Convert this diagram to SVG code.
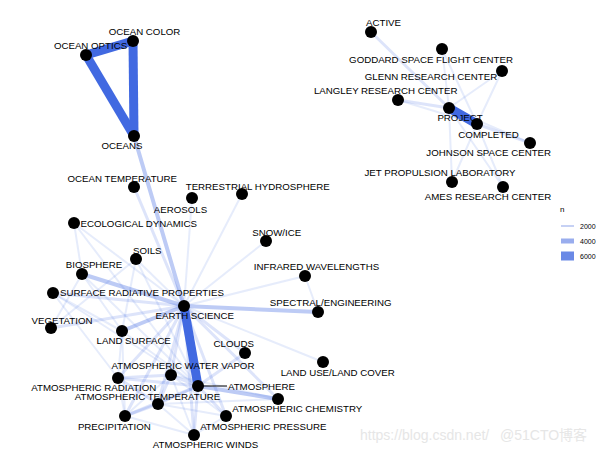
<svg xmlns="http://www.w3.org/2000/svg" width="613" height="452" viewBox="0 0 613 452">
<style>
text{font-family:"Liberation Sans",Arial,sans-serif;font-size:9.7px;fill:#000;text-anchor:middle}
.e1{stroke:#4169E1;stroke-opacity:.13;stroke-width:2;stroke-linecap:round}
.e2{stroke:#4169E1;stroke-opacity:.18;stroke-width:3;stroke-linecap:round}
.e3{stroke:#4169E1;stroke-opacity:.35;stroke-width:4;stroke-linecap:round}
.e4{stroke:#4169E1;stroke-width:9;stroke-linecap:butt}
.n circle{fill:#000}
.wm{fill:#e6e6e6;font-size:14px;text-anchor:start}
.lg{font-size:7px;text-anchor:start}
</style>
<rect width="613" height="452" fill="#fff"/>
<g id="connectors">
<line class="e2" x1="371" y1="32" x2="449" y2="108"/>
<line class="e1" x1="442" y1="49" x2="449" y2="108"/>
<line class="e1" x1="442" y1="49" x2="477" y2="124"/>
<line class="e1" x1="502" y1="71" x2="449" y2="108"/>
<line class="e1" x1="502" y1="71" x2="477" y2="124"/>
<line class="e2" x1="398" y1="100" x2="449" y2="108"/>
<line class="e1" x1="398" y1="100" x2="477" y2="124"/>
<line class="e2" x1="530" y1="143" x2="477" y2="124"/>
<line class="e1" x1="530" y1="143" x2="449" y2="108"/>
<line class="e1" x1="452" y1="182" x2="449" y2="108"/>
<line class="e1" x1="452" y1="182" x2="477" y2="124"/>
<line class="e1" x1="503" y1="187" x2="449" y2="108"/>
<line class="e1" x1="503" y1="187" x2="477" y2="124"/>
<line class="e4" x1="449" y1="108" x2="477" y2="124" stroke-width="7"/>
<line class="e3" x1="134" y1="136" x2="184" y2="306"/>
<line class="e2" x1="134" y1="187" x2="184" y2="306"/>
<line class="e1" x1="192" y1="198" x2="184" y2="306"/>
<line class="e1" x1="242" y1="194" x2="184" y2="306"/>
<line class="e1" x1="266" y1="241" x2="184" y2="306"/>
<line class="e1" x1="305" y1="276" x2="184" y2="306"/>
<line class="e1" x1="305" y1="276" x2="318" y2="312"/>
<line class="e3" x1="318" y1="312" x2="184" y2="306"/>
<line class="e1" x1="323" y1="362" x2="184" y2="306"/>
<line class="e2" x1="245" y1="353" x2="184" y2="306"/>
<line class="e2" x1="278" y1="399" x2="184" y2="306"/>
<line class="e2" x1="171" y1="375" x2="184" y2="306"/>
<line class="e2" x1="118" y1="378" x2="184" y2="306"/>
<line class="e2" x1="158" y1="404" x2="184" y2="306"/>
<line class="e2" x1="125" y1="416" x2="184" y2="306"/>
<line class="e2" x1="226" y1="416" x2="184" y2="306"/>
<line class="e2" x1="194" y1="435" x2="184" y2="306"/>
<line class="e3" x1="122" y1="331" x2="184" y2="306"/>
<line class="e2" x1="51" y1="328" x2="184" y2="306"/>
<line class="e2" x1="53" y1="293" x2="184" y2="306"/>
<line class="e3" x1="82" y1="274" x2="184" y2="306"/>
<line class="e1" x1="136" y1="259" x2="184" y2="306"/>
<line class="e1" x1="74" y1="223" x2="184" y2="306"/>
<line class="e3" x1="198" y1="386" x2="278" y2="399"/>
<line class="e2" x1="198" y1="386" x2="226" y2="416"/>
<line class="e2" x1="198" y1="386" x2="194" y2="435"/>
<line class="e2" x1="198" y1="386" x2="158" y2="404"/>
<line class="e2" x1="198" y1="386" x2="125" y2="416"/>
<line class="e2" x1="198" y1="386" x2="118" y2="378"/>
<line class="e2" x1="198" y1="386" x2="171" y2="375"/>
<line class="e2" x1="198" y1="386" x2="245" y2="353"/>
<line class="e1" x1="198" y1="386" x2="122" y2="331"/>
<line class="e1" x1="198" y1="386" x2="53" y2="293"/>
<line class="e1" x1="198" y1="386" x2="82" y2="274"/>
<line class="e1" x1="198" y1="386" x2="74" y2="223"/>
<line class="e1" x1="198" y1="386" x2="136" y2="259"/>
<line class="e2" x1="171" y1="375" x2="158" y2="404"/>
<line class="e2" x1="171" y1="375" x2="118" y2="378"/>
<line class="e1" x1="171" y1="375" x2="125" y2="416"/>
<line class="e1" x1="171" y1="375" x2="278" y2="399"/>
<line class="e1" x1="171" y1="375" x2="194" y2="435"/>
<line class="e1" x1="171" y1="375" x2="226" y2="416"/>
<line class="e2" x1="118" y1="378" x2="158" y2="404"/>
<line class="e1" x1="118" y1="378" x2="125" y2="416"/>
<line class="e1" x1="118" y1="378" x2="53" y2="293"/>
<line class="e2" x1="158" y1="404" x2="125" y2="416"/>
<line class="e1" x1="158" y1="404" x2="194" y2="435"/>
<line class="e1" x1="158" y1="404" x2="226" y2="416"/>
<line class="e1" x1="158" y1="404" x2="278" y2="399"/>
<line class="e1" x1="125" y1="416" x2="194" y2="435"/>
<line class="e1" x1="226" y1="416" x2="194" y2="435"/>
<line class="e1" x1="125" y1="416" x2="122" y2="331"/>
<line class="e1" x1="118" y1="378" x2="122" y2="331"/>
<line class="e1" x1="74" y1="223" x2="82" y2="274"/>
<line class="e1" x1="82" y1="274" x2="51" y2="328"/>
<line class="e1" x1="82" y1="274" x2="122" y2="331"/>
<line class="e1" x1="53" y1="293" x2="122" y2="331"/>
<line class="e1" x1="51" y1="328" x2="136" y2="259"/>
<line class="e1" x1="136" y1="259" x2="122" y2="331"/>
<line class="e4" x1="86" y1="55" x2="133" y2="41" stroke-width="7"/>
<line class="e4" x1="86" y1="55" x2="134" y2="136"/>
<line class="e4" x1="133" y1="41" x2="134" y2="136"/>
<line class="e4" x1="184" y1="306" x2="198" y2="386"/>
<line x1="198" y1="386" x2="227" y2="386" stroke="#000" stroke-width="1"/>
</g>
<g id="nodes" class="n">
<g id="n-ocean-color"><circle cx="133" cy="41" r="6"/><text x="144.5" y="34.5">OCEAN COLOR</text></g>
<g id="n-ocean-optics"><circle cx="86" cy="55" r="6"/><text x="90.5" y="49">OCEAN OPTICS</text></g>
<g id="n-oceans"><circle cx="134" cy="136" r="6"/><text x="122" y="148.5">OCEANS</text></g>
<g id="n-active"><circle cx="371" cy="32" r="6"/><text x="383.5" y="26">ACTIVE</text></g>
<g id="n-goddard"><circle cx="442" cy="49" r="6"/><text x="431" y="62.8">GODDARD SPACE FLIGHT CENTER</text></g>
<g id="n-glenn"><circle cx="502" cy="71" r="6"/><text x="431" y="80.2">GLENN RESEARCH CENTER</text></g>
<g id="n-langley"><circle cx="398" cy="100" r="6"/><text x="385.7" y="93.5">LANGLEY RESEARCH CENTER</text></g>
<g id="n-project"><circle cx="449" cy="108" r="6"/><text x="460" y="120.8">PROJECT</text></g>
<g id="n-completed"><circle cx="477" cy="124" r="6"/><text x="488.5" y="137.5">COMPLETED</text></g>
<g id="n-johnson"><circle cx="530" cy="143" r="6"/><text x="488.7" y="156.2">JOHNSON SPACE CENTER</text></g>
<g id="n-jpl"><circle cx="452" cy="182" r="6"/><text x="440" y="176.2">JET PROPULSION LABORATORY</text></g>
<g id="n-ames"><circle cx="503" cy="187" r="6"/><text x="488" y="199.5">AMES RESEARCH CENTER</text></g>
<g id="n-ocean-temperature"><circle cx="134" cy="187" r="6"/><text x="122.3" y="181.8">OCEAN TEMPERATURE</text></g>
<g id="n-terrestrial-hydrosphere"><circle cx="242" cy="194" r="6"/><text x="257.7" y="189.5">TERRESTRIAL HYDROSPHERE</text></g>
<g id="n-aerosols"><circle cx="192" cy="198" r="6"/><text x="180.5" y="212.8">AEROSOLS</text></g>
<g id="n-ecological-dynamics"><circle cx="74" cy="223" r="6"/><text x="138.7" y="226.8">ECOLOGICAL DYNAMICS</text></g>
<g id="n-snow-ice"><circle cx="266" cy="241" r="6"/><text x="276.7" y="235.5">SNOW/ICE</text></g>
<g id="n-soils"><circle cx="136" cy="259" r="6"/><text x="147.3" y="253.5">SOILS</text></g>
<g id="n-biosphere"><circle cx="82" cy="274" r="6"/><text x="94" y="267.8">BIOSPHERE</text></g>
<g id="n-surface-radiative"><circle cx="53" cy="293" r="6"/><text x="142" y="296.2">SURFACE RADIATIVE PROPERTIES</text></g>
<g id="n-infrared"><circle cx="305" cy="276" r="6"/><text x="316.5" y="270.2">INFRARED WAVELENGTHS</text></g>
<g id="n-spectral"><circle cx="318" cy="312" r="6"/><text x="330.7" y="306.2">SPECTRAL/ENGINEERING</text></g>
<g id="n-earth-science"><circle cx="184" cy="306" r="6"/><text x="194.7" y="318.5">EARTH SCIENCE</text></g>
<g id="n-vegetation"><circle cx="51" cy="328" r="6"/><text x="62" y="324.2">VEGETATION</text></g>
<g id="n-land-surface"><circle cx="122" cy="331" r="6"/><text x="133.7" y="344.2">LAND SURFACE</text></g>
<g id="n-clouds"><circle cx="245" cy="353" r="6"/><text x="233.7" y="347.2">CLOUDS</text></g>
<g id="n-land-use"><circle cx="323" cy="362" r="6"/><text x="337.7" y="376.2">LAND USE/LAND COVER</text></g>
<g id="n-atm-water-vapor"><circle cx="171" cy="375" r="6"/><text x="183" y="368.5">ATMOSPHERIC WATER VAPOR</text></g>
<g id="n-atm-radiation"><circle cx="118" cy="378" r="6"/><text x="93.8" y="390.5">ATMOSPHERIC RADIATION</text></g>
<g id="n-atmosphere"><circle cx="198" cy="386" r="6"/><text x="261.5" y="390.2">ATMOSPHERE</text></g>
<g id="n-atm-temperature"><circle cx="158" cy="404" r="6"/><text x="147.5" y="400">ATMOSPHERIC TEMPERATURE</text></g>
<g id="n-atm-chemistry"><circle cx="278" cy="399" r="6"/><text x="297.3" y="412.2">ATMOSPHERIC CHEMISTRY</text></g>
<g id="n-precipitation"><circle cx="125" cy="416" r="6"/><text x="114.3" y="429.5">PRECIPITATION</text></g>
<g id="n-atm-pressure"><circle cx="226" cy="416" r="6"/><text x="263.3" y="429.5">ATMOSPHERIC PRESSURE</text></g>
<g id="n-atm-winds"><circle cx="194" cy="435" r="6"/><text x="205.5" y="447.5">ATMOSPHERIC WINDS</text></g>
</g>
<g id="legend">
<text class="lg" x="560" y="212" style="font-size:8px">n</text>
<rect x="561" y="225" width="13" height="2" fill="#c6d1f4"/>
<rect x="561" y="238.5" width="13" height="5" fill="#99adee"/>
<rect x="561" y="251.5" width="13" height="9" fill="#6a89e6"/>
<text class="lg" x="580" y="228.5">2000</text>
<text class="lg" x="580" y="243.5">4000</text>
<text class="lg" x="580" y="258.5">6000</text>
</g>
<text class="wm" x="360" y="440">https://blog.csdn.net/</text>
<text class="wm" x="500" y="440" style="font-family:'Liberation Sans','Noto Sans CJK SC',sans-serif">@51CTO博客</text>
</svg>
